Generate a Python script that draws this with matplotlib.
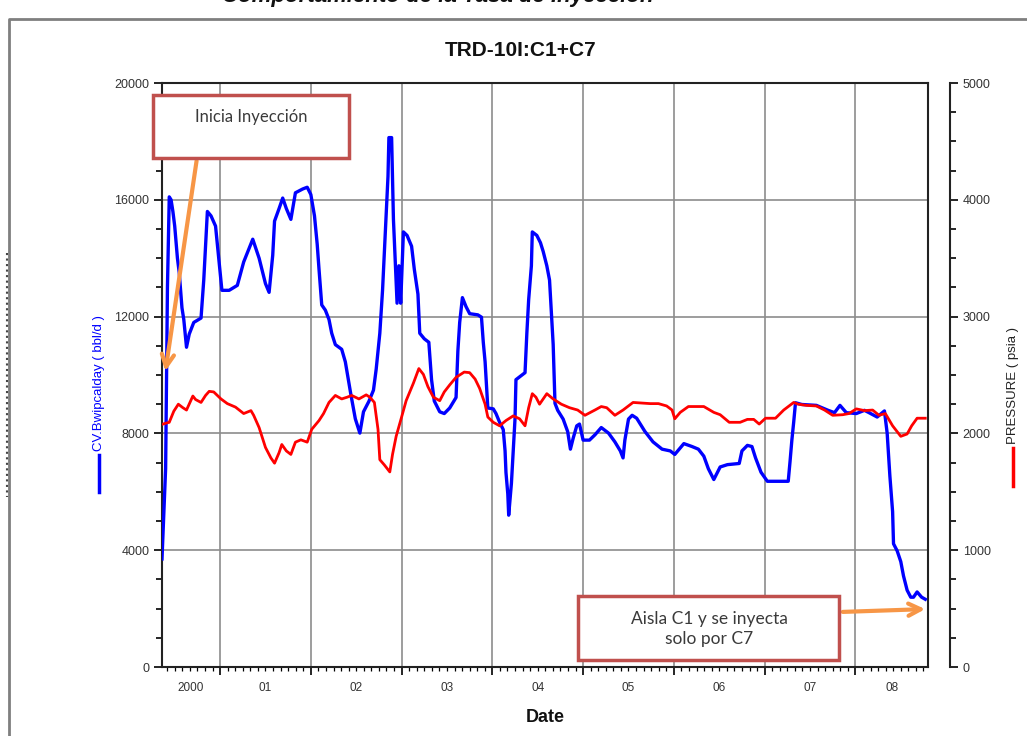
import numpy as np
import matplotlib
matplotlib.use('Agg')
import matplotlib.pyplot as plt
from matplotlib.patches import Rectangle, FancyArrowPatch
from matplotlib.lines import Line2D

plt.rcParams['font.family'] = ['Liberation Sans', 'DejaVu Sans']

# CV.Bwipcalday (bbl/d), left axis, dates in decimal years
cv_dates = [2000.36, 2000.40, 2000.42, 2000.44, 2000.46, 2000.48, 2000.50, 2000.53, 2000.55, 2000.58,
            2000.60, 2000.63, 2000.66, 2000.71, 2000.79, 2000.82, 2000.86, 2000.90, 2000.95, 2000.99,
            2001.02, 2001.10, 2001.19, 2001.26, 2001.36, 2001.43, 2001.50, 2001.54, 2001.58, 2001.60,
            2001.65, 2001.69, 2001.73, 2001.78, 2001.83, 2001.91, 2001.96, 2002.00, 2002.04, 2002.07,
            2002.09, 2002.12, 2002.16, 2002.20, 2002.23, 2002.27, 2002.34, 2002.38, 2002.44, 2002.49,
            2002.54, 2002.58, 2002.64, 2002.69, 2002.72, 2002.76, 2002.79, 2002.81, 2002.83, 2002.85,
            2002.86, 2002.89, 2002.90, 2002.91, 2002.93, 2002.95, 2002.97, 2002.99, 2003.01, 2003.02,
            2003.06, 2003.11, 2003.14, 2003.18, 2003.20, 2003.25, 2003.30, 2003.33, 2003.36, 2003.42,
            2003.47, 2003.53, 2003.60, 2003.62, 2003.64, 2003.67, 2003.71, 2003.75, 2003.84, 2003.88,
            2003.90, 2003.92, 2003.95, 2004.01, 2004.04, 2004.08, 2004.12, 2004.14, 2004.15, 2004.17,
            2004.18, 2004.21, 2004.23, 2004.25, 2004.26, 2004.36, 2004.38, 2004.40, 2004.43, 2004.44,
            2004.49, 2004.53, 2004.56, 2004.60, 2004.63, 2004.65, 2004.67, 2004.68, 2004.69, 2004.72,
            2004.78, 2004.83, 2004.86, 2004.89, 2004.93, 2004.96, 2005.00, 2005.07, 2005.13, 2005.20,
            2005.28, 2005.35, 2005.41, 2005.44, 2005.46, 2005.50, 2005.54, 2005.59, 2005.68, 2005.77,
            2005.87, 2005.96, 2006.01, 2006.11, 2006.20, 2006.27, 2006.33, 2006.38, 2006.44, 2006.51,
            2006.59, 2006.72, 2006.75, 2006.81, 2006.86, 2006.90, 2006.96, 2007.03, 2007.14, 2007.26,
            2007.28, 2007.30, 2007.32, 2007.34, 2007.41, 2007.57, 2007.70, 2007.77, 2007.83, 2007.90,
            2008.01, 2008.10, 2008.15, 2008.24, 2008.32, 2008.35, 2008.38, 2008.41, 2008.42, 2008.46,
            2008.50, 2008.53, 2008.57, 2008.61, 2008.64, 2008.68, 2008.73, 2008.77]
cv_rate = [3700, 6800, 13000, 16100, 16000, 15600, 15100, 14000, 13500, 12300,
           11900, 10950, 11400, 11800, 11950, 13250, 15600, 15450, 15100, 13850,
           12900, 12900, 13070, 13870, 14650, 14000, 13130, 12830, 14100, 15270,
           15700, 16060, 15700, 15330, 16240, 16370, 16430, 16180, 15450, 14480,
           13620, 12400, 12220, 11900, 11430, 11040, 10880, 10450, 9350, 8500,
           8010, 8740, 9100, 9480, 10200, 11430, 12900, 14230, 15500, 16800,
           18130, 18130, 16800, 15330, 13870, 12460, 13740, 12460, 14110, 14900,
           14780, 14410, 13620, 12770, 11430, 11240, 11120, 9840, 9110, 8740,
           8680, 8870, 9230, 10820, 11800, 12650, 12340, 12100, 12060, 11980,
           11120, 10450, 8870, 8840, 8680, 8380, 8130, 7400, 6660, 5930,
           5200, 6290, 7400, 8520, 9840, 10080, 11430, 12580, 13740, 14900,
           14780, 14530, 14230, 13740, 13250, 12150, 11050, 10010, 9030, 8790,
           8490, 8060, 7460, 7830, 8260, 8320, 7770, 7770, 7950, 8200,
           8010, 7710, 7400, 7160, 7770, 8490, 8620, 8520, 8070, 7710,
           7460, 7400, 7280, 7650, 7550, 7460, 7220, 6790, 6420, 6850,
           6930, 6970, 7400, 7590, 7550, 7160, 6670, 6360, 6360, 6360,
           7040, 7770, 8380, 9050, 8990, 8960, 8790, 8710, 8960, 8710,
           8680, 8790, 8710, 8560, 8770, 8010, 6540, 5320, 4220, 3980,
           3610, 3120, 2630, 2390, 2390, 2570, 2390, 2320]

# PRESSURE (psia), right axis
p_dates = [2000.37, 2000.44, 2000.49, 2000.54, 2000.59, 2000.63, 2000.70, 2000.73, 2000.79, 2000.84,
           2000.88, 2000.93, 2001.01, 2001.08, 2001.17, 2001.26, 2001.34, 2001.37, 2001.43, 2001.50,
           2001.56, 2001.60, 2001.65, 2001.68, 2001.73, 2001.78, 2001.83, 2001.89, 2001.96, 2002.01,
           2002.09, 2002.14, 2002.20, 2002.27, 2002.34, 2002.40, 2002.45, 2002.53, 2002.61, 2002.65,
           2002.70, 2002.74, 2002.76, 2002.81, 2002.87, 2002.90, 2002.94, 2003.00, 2003.05, 2003.13,
           2003.19, 2003.24, 2003.29, 2003.35, 2003.42, 2003.47, 2003.53, 2003.60, 2003.69, 2003.75,
           2003.81, 2003.86, 2003.92, 2003.95, 2004.01, 2004.08, 2004.15, 2004.23, 2004.30, 2004.36,
           2004.40, 2004.44, 2004.48, 2004.52, 2004.56, 2004.60, 2004.67, 2004.76, 2004.85, 2004.94,
           2005.02, 2005.13, 2005.20, 2005.26, 2005.35, 2005.44, 2005.55, 2005.74, 2005.83, 2005.92,
           2005.98, 2006.01, 2006.07, 2006.16, 2006.33, 2006.44, 2006.51, 2006.61, 2006.73, 2006.81,
           2006.88, 2006.94, 2007.01, 2007.12, 2007.21, 2007.32, 2007.37, 2007.46, 2007.57, 2007.66,
           2007.75, 2007.86, 2007.93, 2008.01, 2008.10, 2008.19, 2008.26, 2008.33, 2008.41, 2008.50,
           2008.57, 2008.62, 2008.68, 2008.77]
pressure = [2080, 2095, 2190, 2250, 2220, 2200, 2320, 2290, 2265, 2325,
            2360, 2355, 2295, 2255, 2225, 2170, 2195, 2155, 2050, 1880,
            1790, 1745, 1835, 1905, 1850, 1820, 1925, 1945, 1925, 2035,
            2110, 2170, 2265, 2325, 2295, 2310, 2325, 2295, 2330, 2310,
            2265, 2035, 1775, 1730, 1670, 1820, 1975, 2140, 2280, 2430,
            2555, 2505, 2400, 2310, 2280, 2355, 2415, 2480, 2525, 2520,
            2465, 2385, 2250, 2140, 2095, 2065, 2110, 2150, 2125, 2065,
            2220, 2340, 2310, 2250, 2295, 2340, 2295, 2250, 2220, 2200,
            2155, 2200, 2230, 2220, 2155, 2200, 2265, 2255, 2255, 2235,
            2200, 2125, 2180, 2230, 2230, 2180, 2160, 2095, 2095, 2120,
            2120, 2080, 2130, 2130, 2200, 2265, 2250, 2240, 2235, 2200,
            2155, 2160, 2170, 2210, 2195, 2200, 2155, 2170, 2065, 1975,
            1995, 2065, 2130, 2130]

year_labels = ['2000', '01', '02', '03', '04', '05', '06', '07', '08']
year_starts = [2000, 2001, 2002, 2003, 2004, 2005, 2006, 2007, 2008]
x_min, x_max = 2000.36, 2008.80

W, H = 1027, 736


def fx(px):
    return px / W


def fy(py):
    return 1 - py / H


fig = plt.figure(figsize=(W / 100, H / 100), dpi=100)
fig.patch.set_facecolor('white')

ax = fig.add_axes([fx(162), fy(667), (928 - 162) / W, (667 - 83) / H])
ax2 = ax.twinx()

ax.plot(cv_dates, cv_rate, color='#0000ff', lw=2.4, zorder=3)
ax2.plot(p_dates, pressure, color='#ff0000', lw=2.0, zorder=3)

ax.set_xlim(x_min, x_max)
ax.set_ylim(0, 20000)
ax2.set_ylim(0, 5000)

# left axis
ax.set_yticks(np.arange(0, 20001, 4000))
ax.set_yticks(np.arange(0, 20001, 1000), minor=True)
ax.tick_params(axis='y', which='major', direction='out', length=6, width=1.2,
               labelsize=9, labelcolor='#333333', pad=3)
ax.tick_params(axis='y', which='minor', direction='out', length=4, width=1.2)

# bottom axis: year gridlines, monthly minor ticks, labels centred in each year
ax.set_xticks(year_starts[1:])
ax.set_xticklabels([])
ax.set_xticks(np.arange(2000 + 5 / 12, x_max, 1 / 12), minor=True)
ax.tick_params(axis='x', which='major', direction='out', length=6, width=1.2)
ax.tick_params(axis='x', which='minor', direction='out', length=3, width=0.9)
for lbl, ys in zip(year_labels, year_starts):
    c = (max(ys, x_min) + min(ys + 1, x_max)) / 2
    ax.annotate(lbl, (c, 0), xycoords=('data', 'axes fraction'), xytext=(0, -15),
                textcoords='offset points', ha='center', va='center',
                fontsize=8.5, color='#333333')

ax.grid(which='major', color='#8c8c8c', lw=1.2)
for s in ax.spines.values():
    s.set_linewidth(1.5)
    s.set_color('#222222')

# right axis offset from the box
for name in ['top', 'bottom', 'left']:
    ax2.spines[name].set_visible(False)
ax2.spines['right'].set_position(('outward', 16))
ax2.spines['right'].set_linewidth(1.5)
ax2.spines['right'].set_color('#222222')
ax2.set_yticks(np.arange(0, 5001, 1000))
ax2.set_yticks(np.arange(0, 5001, 250), minor=True)
ax2.tick_params(axis='y', which='major', direction='out', length=6, width=1.2,
                labelsize=9, labelcolor='#333333', pad=3)
ax2.tick_params(axis='y', which='minor', direction='out', length=4, width=1.2)

# titles and axis labels
fig.text(fx(521), fy(50), 'TRD-10I:C1+C7', ha='center', va='center',
         fontsize=15, fontweight='bold', color='#111111')
fig.text(fx(545), fy(718), 'Date', ha='center', va='center',
         fontsize=13, fontweight='bold', color='#111111')
fig.text(fx(99), fy(451), 'CV.Bwipcalday ( bbl/d )', rotation=90, ha='center',
         va='bottom', fontsize=9.5, color='#0000ff')
fig.add_artist(Line2D([fx(99), fx(99)], [fy(455), fy(492)], color='#0000ff', lw=2.5,
                      transform=fig.transFigure))
fig.text(fx(1013), fy(444), 'PRESSURE ( psia )', rotation=90, ha='center',
         va='bottom', fontsize=9.5, color='#222222')
fig.add_artist(Line2D([fx(1013), fx(1013)], [fy(448), fy(486)], color='#ff0000', lw=2.5,
                      transform=fig.transFigure))

# page frame and heading cut off above it
fig.add_artist(Line2D([fx(9), fx(9), 1], [0, fy(19), fy(19)], color='#7f7f7f', lw=2,
                      transform=fig.transFigure))
fig.add_artist(Line2D([fx(7), fx(7)], [fy(253), fy(497)], color='#444444', lw=1.5,
                      ls=':', transform=fig.transFigure))
fig.text(fx(438), fy(2), 'Comportamiento de la Tasa de Inyección', ha='center',
         va='baseline', fontsize=16, fontweight='bold', fontstyle='italic', color='#111111')

# callouts
box_ec = '#c0504d'
arrow_c = '#f79646'
fig.add_artist(FancyArrowPatch((fx(197), fy(158)), (fx(165), fy(374)),
                               transform=fig.transFigure, arrowstyle='->',
                               mutation_scale=22, lw=3, color=arrow_c, zorder=4))
fig.add_artist(FancyArrowPatch((fx(840), fy(612)), (fx(928), fy(609)),
                               transform=fig.transFigure, arrowstyle='->',
                               mutation_scale=22, lw=3, color=arrow_c, zorder=4))
fig.add_artist(Rectangle((fx(153), fy(158)), (349 - 153) / W, (158 - 95) / H,
                         transform=fig.transFigure, fc='white', ec=box_ec, lw=2.5, zorder=5))
fig.text(fx(251), fy(117), 'Inicia Inyección', ha='center', va='center',
         fontsize=12, family=['Lato', 'DejaVu Sans'], color='#3a3a3a', zorder=6)
fig.add_artist(Rectangle((fx(578), fy(660)), (839 - 578) / W, (660 - 596) / H,
                         transform=fig.transFigure, fc='white', ec=box_ec, lw=2.5, zorder=5))
fig.text(fx(709), fy(629), 'Aisla C1 y se inyecta\nsolo por C7', ha='center', va='center',
         fontsize=12.5, family=['Lato', 'DejaVu Sans'], color='#3a3a3a',
         linespacing=1.35, zorder=6)

fig.savefig('out.png', dpi=100)
